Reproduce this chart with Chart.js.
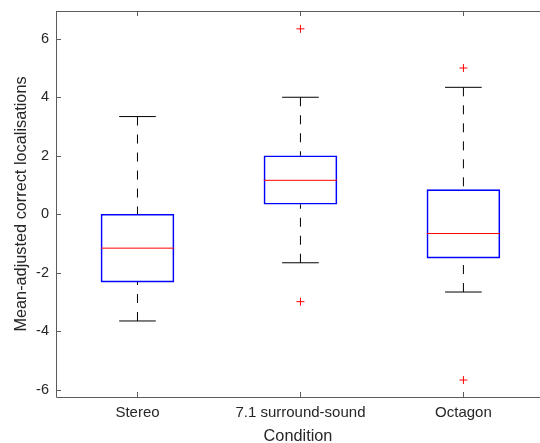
<!DOCTYPE html>
<html>
<head>
<meta charset="utf-8">
<script src="https://cdn.jsdelivr.net/npm/chart.js@4"></script>
<style>
  html, body { margin: 0; padding: 0; background: #fff; overflow: hidden; }
  #wrap { position: relative; width: 540px; height: 443px; }
</style>
</head>
<body>
<div id="wrap"><canvas id="chart"></canvas></div>
<script>
// values
const categories = ["Stereo", "7.1 surround-sound", "Octagon"];
const whiskerHigh = [3.34, 4.0, 4.34];
const q3 = [0.0, 2.0, 0.84];
const medians = [-1.16, 1.16, -0.66];
const q1 = [-2.32, 0.34, -1.5];
const whiskerLow = [-3.65, -1.66, -2.66];
const outliers = [[], [6.34, -2.99], [5.0, -5.67]];
const yTicks = [-6, -4, -2, 0, 2, 4, 6];

const BOX_HALF = 0.225;  // half box width in x units
const CAP_HALF = 0.1125; // half whisker cap width
const AXIS_COLOR = "#5c5c5c";
const TEXT_COLOR = "#262626";
const FONT = "'Liberation Sans', Arial, Helvetica, sans-serif";

// one short horizontal segment for a group
function hSegment(v, i, half) {
  return [{ x: i + 1 - half, y: v }, { x: i + 1 + half, y: v }];
}

const boxData = categories.map((c, i) => ({ x: i + 1, y: [q1[i], q3[i]] }));

// dashed whiskers, drawn from the cap towards the box
const whiskerData = [];
categories.forEach((c, i) => {
  const x = i + 1;
  whiskerData.push({ x: x, y: whiskerHigh[i] }, { x: x, y: q3[i] }, { x: x, y: null });
  whiskerData.push({ x: x, y: whiskerLow[i] }, { x: x, y: q1[i] }, { x: x, y: null });
});

const outlierData = [];
outliers.forEach((list, i) => list.forEach(v => outlierData.push({ x: i + 1, y: v })));

// MATLAB-like axes: spines plus inward ticks
const axesBox = {
  id: "axesBox",
  afterDraw(chart) {
    const { ctx, chartArea: a, scales } = chart;
    ctx.save();
    ctx.strokeStyle = AXIS_COLOR;
    ctx.lineWidth = 1;
    ctx.beginPath();
    ctx.moveTo(a.left + 0.5, a.top + 0.5);
    ctx.lineTo(a.right, a.top + 0.5);
    ctx.moveTo(a.left + 0.5, a.top);
    ctx.lineTo(a.left + 0.5, a.bottom + 0.5);
    ctx.lineTo(a.right, a.bottom + 0.5);
    scales.y.ticks.forEach(t => {
      const py = Math.round(scales.y.getPixelForValue(t.value)) + 0.5;
      ctx.moveTo(a.left, py);
      ctx.lineTo(a.left + 5, py);
    });
    scales.x.ticks.forEach(t => {
      const px = Math.round(scales.x.getPixelForValue(t.value)) + 0.5;
      ctx.moveTo(px, a.bottom);
      ctx.lineTo(px, a.bottom - 5);
      ctx.moveTo(px, a.top);
      ctx.lineTo(px, a.top + 5);
    });
    ctx.stroke();
    ctx.restore();
  }
};

const lineSet = (color, data, order, extra) => Object.assign({
  type: "line",
  data: data,
  borderColor: color,
  backgroundColor: color,
  borderWidth: 1,
  pointRadius: 0,
  pointHoverRadius: 0,
  order: order
}, extra || {});

const datasets = [lineSet("#000000", whiskerData, 5, { borderDash: [9, 9] })];
categories.forEach((c, i) => {
  datasets.push(lineSet("#000000", hSegment(whiskerHigh[i], i, CAP_HALF), 4));
  datasets.push(lineSet("#000000", hSegment(whiskerLow[i], i, CAP_HALF), 4));
  datasets.push(lineSet("#ff0000", hSegment(medians[i], i, BOX_HALF), 1));
});
datasets.push({
  type: "bar",
  data: boxData,
  backgroundColor: "rgba(0,0,0,0)",
  borderColor: "#0000ff",
  borderWidth: 1,
  borderSkipped: false,
  barThickness: 73,
  order: 2
});
datasets.push({
  type: "scatter",
  data: outlierData,
  pointStyle: "cross",
  pointRadius: 4,
  pointHoverRadius: 4,
  borderColor: "#ff0000",
  backgroundColor: "#ff0000",
  borderWidth: 1,
  order: 0
});

new Chart(document.getElementById("chart"), {
  type: "bar",
  data: { datasets: datasets },
  options: {
    responsive: true,
    maintainAspectRatio: false,
    animation: false,
    layout: { autoPadding: false, padding: { top: 11, right: 0, bottom: 0, left: 0 } },
    plugins: {
      legend: { display: false },
      tooltip: { enabled: false }
    },
    scales: {
      x: {
        type: "linear",
        min: 0.5,
        max: 3.47,
        offset: false,
        grid: { display: false, drawTicks: false },
        border: { display: false },
        afterBuildTicks: s => { s.ticks = categories.map((c, i) => ({ value: i + 1 })); },
        afterFit: s => { s.height = 46; s.paddingLeft = 0; s.paddingRight = 0; },
        ticks: {
          autoSkip: false,
          maxRotation: 0,
          padding: 7,
          color: TEXT_COLOR,
          font: { family: FONT, size: 15 },
          callback: v => categories[v - 1]
        },
        title: {
          display: true,
          text: "Condition",
          color: TEXT_COLOR,
          font: { family: FONT, size: 16.3, lineHeight: 1 },
          padding: { top: 0, bottom: -2 }
        }
      },
      y: {
        min: -6.25,
        max: 6.95,
        grid: { display: false, drawTicks: false },
        border: { display: false },
        afterBuildTicks: s => { s.ticks = yTicks.map(v => ({ value: v })); },
        afterFit: s => { s.width = 56; s.paddingTop = 0; s.paddingBottom = 0; },
        ticks: {
          padding: 7,
          color: TEXT_COLOR,
          font: { family: FONT, size: 14.5 }
        },
        title: {
          display: true,
          text: "Mean-adjusted correct localisations",
          color: TEXT_COLOR,
          font: { family: FONT, size: 16.3, lineHeight: 1 },
          padding: { top: 13, bottom: 0 }
        }
      }
    }
  },
  plugins: [axesBox]
});
</script>
</body>
</html>
